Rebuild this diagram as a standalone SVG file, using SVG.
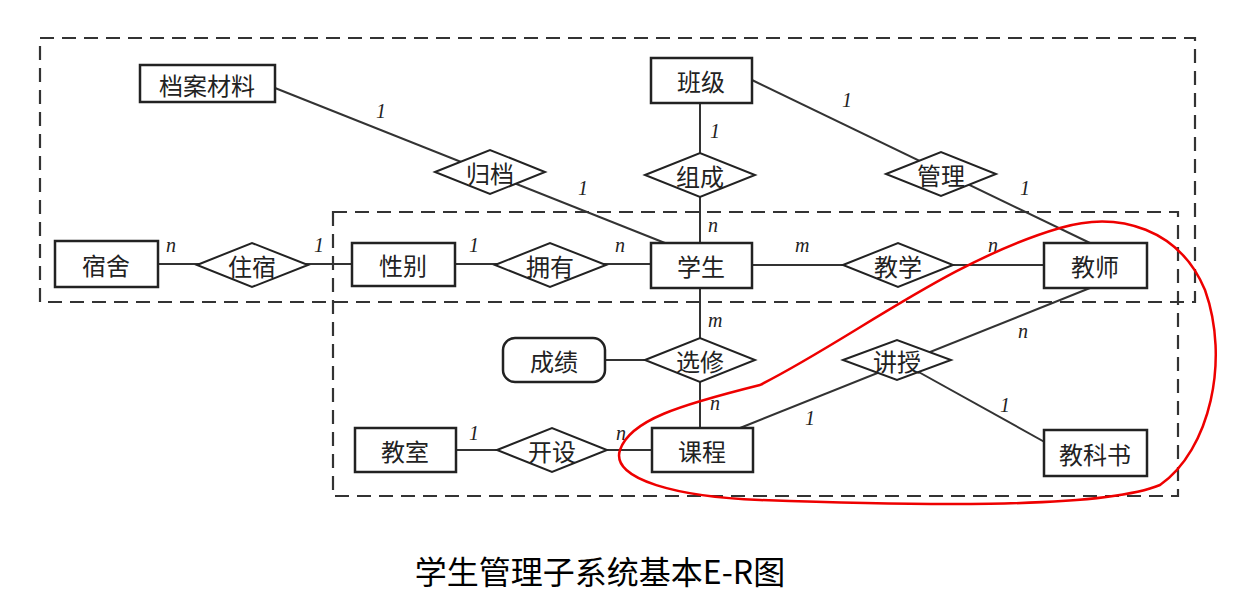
<svg xmlns="http://www.w3.org/2000/svg" width="1236" height="609" viewBox="0 0 1236 609">
<style>
.e{fill:#fff;stroke:#222;stroke-width:2.5}
.d{fill:#fff;stroke:#222;stroke-width:2}
.t{font-family:"Noto Sans CJK SC","Noto Sans",sans-serif;font-size:24px;fill:#222;text-anchor:middle;dominant-baseline:central}
.c{font-family:"Liberation Serif",serif;font-size:20px;font-style:italic;fill:#222}
.b{fill:none;stroke:#333;stroke-width:2.2;stroke-dasharray:14 8}
.l{stroke:#333;stroke-width:2;fill:none}
</style>
<rect width="1236" height="609" fill="#fff"/>
<rect class="b" x="40" y="38" width="1155" height="264"/>
<rect class="b" x="333" y="212" width="845" height="284"/>
<g id="connectors">
<path class="l" d="M275,88 L665,243"/>
<path class="l" d="M700,103 V243"/>
<path class="l" d="M752,80 L1090,243"/>
<path class="l" d="M158,264 H352"/>
<path class="l" d="M455,264 H651"/>
<path class="l" d="M752,265 H1044"/>
<path class="l" d="M700,288 V428"/>
<path class="l" d="M605,360 H645"/>
<path class="l" d="M456,450 H652"/>
<path class="l" d="M740,428 L1090,288"/>
<path class="l" d="M897,360 L1050,445"/>
<g class="c">
<text x="376" y="118">1</text><text x="578" y="195">1</text>
<text x="710" y="138">1</text><text x="708" y="232">n</text>
<text x="842" y="107">1</text><text x="1020" y="195">1</text>
<text x="166" y="252">n</text><text x="314" y="252">1</text>
<text x="469" y="252">1</text><text x="615" y="252">n</text>
<text x="795" y="252">m</text><text x="988" y="252">n</text>
<text x="708" y="327">m</text><text x="710" y="410">n</text>
<text x="469" y="440">1</text><text x="616" y="440">n</text>
<text x="1018" y="338">n</text><text x="805" y="425">1</text>
<text x="1000" y="412">1</text>
</g>
</g>
<g id="n1"><rect class="e" x="140" y="65" width="135" height="37"/><text class="t" x="207" y="84">档案材料</text></g>
<g id="n2"><rect class="e" x="651" y="58" width="101" height="45"/><text class="t" x="701" y="80">班级</text></g>
<g id="n3"><rect class="e" x="55" y="241" width="103" height="46"/><text class="t" x="106" y="264">宿舍</text></g>
<g id="n4"><rect class="e" x="352" y="243" width="103" height="43"/><text class="t" x="403" y="264">性别</text></g>
<g id="n5"><rect class="e" x="651" y="243" width="101" height="45"/><text class="t" x="701" y="265">学生</text></g>
<g id="n6"><rect class="e" x="1044" y="243" width="103" height="45"/><text class="t" x="1095" y="265">教师</text></g>
<g id="n7"><rect class="e" x="503" y="338" width="102" height="44" rx="12"/><text class="t" x="554" y="360">成绩</text></g>
<g id="n8"><rect class="e" x="355" y="428" width="101" height="44"/><text class="t" x="405" y="450">教室</text></g>
<g id="n9"><rect class="e" x="652" y="428" width="101" height="44"/><text class="t" x="702" y="450">课程</text></g>
<g id="n10"><rect class="e" x="1044" y="430" width="103" height="46"/><text class="t" x="1095" y="453">教科书</text></g>
<g id="r1"><polygon class="d" points="435,172 490,150 545,172 490,194"/><text class="t" x="490" y="172">归档</text></g>
<g id="r2"><polygon class="d" points="645,175 700,153 755,175 700,197"/><text class="t" x="700" y="175">组成</text></g>
<g id="r3"><polygon class="d" points="886,174 941,152 996,174 941,196"/><text class="t" x="941" y="174">管理</text></g>
<g id="r4"><polygon class="d" points="197,265 252,243 308,265 252,287"/><text class="t" x="252" y="265">住宿</text></g>
<g id="r5"><polygon class="d" points="495,265 550,243 606,265 550,287"/><text class="t" x="550" y="265">拥有</text></g>
<g id="r6"><polygon class="d" points="843,265 898,243 953,265 898,287"/><text class="t" x="898" y="265">教学</text></g>
<g id="r7"><polygon class="d" points="645,360 700,338 755,360 700,382"/><text class="t" x="700" y="360">选修</text></g>
<g id="r8"><polygon class="d" points="843,360 897,340 951,360 897,380"/><text class="t" x="897" y="360">讲授</text></g>
<g id="r9"><polygon class="d" points="497,450 552,428 607,450 552,472"/><text class="t" x="552" y="450">开设</text></g>
<path d="M1060,228 C1120,210 1180,230 1205,290 C1230,360 1210,450 1160,485 C1100,510 900,505 760,500 C680,497 610,480 620,450 C630,420 680,405 760,385 C850,340 950,260 1060,228 Z" fill="none" stroke="#e00" stroke-width="2.5"/>
<text x="600" y="584" style="font-family:'Noto Sans CJK SC',sans-serif;font-size:32px;fill:#000" text-anchor="middle">学生管理子系统基本E-R图</text>
</svg>
